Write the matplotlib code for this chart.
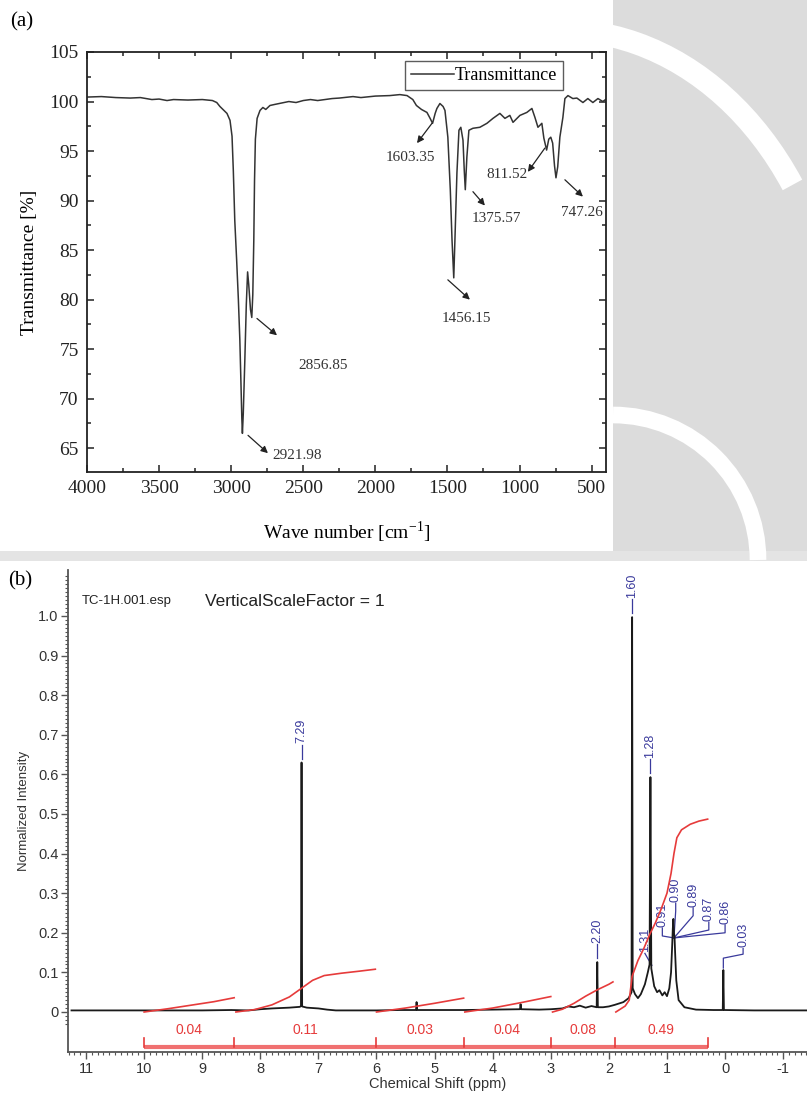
import matplotlib
matplotlib.use("Agg")
import matplotlib.pyplot as plt
from matplotlib.patches import Rectangle, Arc
from matplotlib.ticker import MultipleLocator, FixedLocator, FuncFormatter

W_PX, H_PX = 807, 1093

# ---- panel (a): FTIR spectrum ----
FTIR_WAVENUMBER = [
    4000, 3900, 3800, 3700, 3630, 3550, 3500, 3445, 3400, 3300, 3200, 3130,
    3100, 3078, 3050, 3029, 3008, 2994, 2985, 2975, 2962, 2950, 2940, 2932,
    2926, 2922, 2916, 2905, 2895, 2886, 2878, 2866, 2857, 2850, 2843, 2838,
    2832, 2820, 2800, 2780, 2760, 2731, 2700, 2650, 2600, 2550, 2500, 2450,
    2400, 2300, 2250, 2155, 2100, 2000, 1900, 1830, 1780, 1740, 1715, 1680,
    1642, 1620, 1603, 1585, 1573, 1552, 1530, 1517, 1497, 1480, 1468, 1456,
    1448, 1434, 1420, 1407, 1392, 1383, 1376, 1365, 1351, 1323, 1275, 1226,
    1184, 1136, 1101, 1067, 1045, 997, 949, 914, 893, 872, 845, 831, 812,
    797, 783, 770, 757, 747, 735, 720, 699, 685, 664, 630, 602, 560, 526,
    491, 456, 422, 403,
]
FTIR_TRANSMITTANCE = [
    100.45, 100.5, 100.4, 100.35, 100.4, 100.2, 100.25, 100.1, 100.2, 100.15,
    100.2, 100.1, 99.9, 99.5, 99.1, 98.8, 98.1, 96.5, 93.0, 88.0, 84.0, 80.0,
    76.0, 71.5, 68.0, 66.5, 68.5, 74.0, 79.5, 82.8, 81.5, 79.0, 78.2, 80.5,
    86.0, 92.0, 96.2, 98.3, 99.1, 99.4, 99.2, 99.6, 99.7, 99.85, 100.0, 99.9,
    100.1, 100.2, 100.1, 100.3, 100.35, 100.5, 100.4, 100.55, 100.6, 100.7,
    100.6, 100.2, 99.6, 99.2, 98.9, 98.3, 97.8, 98.8, 99.3, 99.8, 99.5, 99.1,
    96.4, 91.1, 86.0, 82.2, 86.0, 92.8, 97.1, 97.4, 96.1, 93.0, 91.1, 94.4,
    97.1, 97.3, 97.4, 97.8, 98.3, 98.8, 98.3, 98.6, 97.9, 98.6, 98.9, 99.3,
    98.4, 97.4, 97.8, 96.3, 95.1, 96.2, 96.4, 95.8, 93.5, 92.3, 93.4, 96.4,
    98.4, 100.3, 100.6, 100.3, 100.35, 99.9, 100.3, 99.9, 100.3, 100.0, 100.2,
]
FTIR_PEAK_LABELS = ["2921.98", "2856.85", "1603.35", "1456.15", "1375.57", "811.52", "747.26"]

# ---- panel (b): 1H NMR spectrum ----
NMR_PPM = [
    11.25, 10.5, 10.0, 9.0, 8.5, 8.2, 8.0, 7.8, 7.5, 7.32, 7.30, 7.29, 7.28,
    7.2, 7.0, 6.85, 6.7, 6.0, 5.6, 5.32, 5.31, 5.30, 5.0, 4.5, 4.0, 3.53,
    3.52, 3.51, 3.2, 3.0, 2.8, 2.7, 2.6, 2.5, 2.4, 2.3, 2.21, 2.20, 2.19,
    2.1, 2.0, 1.9, 1.75, 1.66, 1.61, 1.60, 1.59, 1.55, 1.5, 1.45, 1.38,
    1.33, 1.30, 1.285, 1.27, 1.22, 1.17, 1.13, 1.08, 1.04, 1.0, 0.96, 0.93,
    0.91, 0.90, 0.89, 0.88, 0.87, 0.86, 0.84, 0.8, 0.7, 0.5, 0.2, 0.04,
    0.03, 0.02, -0.5, -1.0, -1.4,
]
NMR_INTENSITY = [
    0.004, 0.004, 0.004, 0.004, 0.005, 0.004, 0.007, 0.009, 0.011, 0.013,
    0.015, 0.63, 0.014, 0.011, 0.009, 0.006, 0.004, 0.004, 0.005, 0.005,
    0.025, 0.005, 0.005, 0.005, 0.006, 0.007, 0.020, 0.007, 0.006, 0.007,
    0.009, 0.014, 0.012, 0.016, 0.011, 0.015, 0.012, 0.126, 0.012, 0.012,
    0.014, 0.018, 0.025, 0.035, 0.05, 0.997, 0.06, 0.045, 0.035, 0.045,
    0.07, 0.10, 0.12, 0.593, 0.11, 0.065, 0.05, 0.055, 0.042, 0.05, 0.04,
    0.06, 0.10, 0.17, 0.21, 0.235, 0.20, 0.19, 0.15, 0.08, 0.03, 0.012,
    0.006, 0.005, 0.005, 0.106, 0.005, 0.004, 0.004, 0.004,
]
INTEGRAL_EDGES = [10.0, 8.45, 6.0, 4.5, 3.0, 1.9, 0.3]
INTEGRAL_VALUES = ["0.04", "0.11", "0.03", "0.04", "0.08", "0.49"]
INTEGRAL_CURVES_PPM = [
    [10.0, 9.6, 9.2, 8.8, 8.45],
    [8.42, 8.1, 7.8, 7.5, 7.29, 7.1, 6.9, 6.6, 6.3, 6.02],
    [6.0, 5.5, 5.0, 4.5],
    [4.48, 4.0, 3.5, 3.0],
    [2.97, 2.8, 2.6, 2.4, 2.2, 2.0, 1.93],
    [1.88, 1.72, 1.65, 1.6, 1.5, 1.4, 1.3, 1.2, 1.1, 1.0, 0.93, 0.88, 0.83,
     0.75, 0.6, 0.45, 0.3],
]
INTEGRAL_CURVES_VAL = [
    [0.0, 0.008, 0.017, 0.026, 0.036],
    [0.0, 0.006, 0.018, 0.038, 0.06, 0.08, 0.092, 0.098, 0.103, 0.108],
    [0.0, 0.01, 0.022, 0.035],
    [0.0, 0.01, 0.024, 0.039],
    [0.0, 0.007, 0.022, 0.04, 0.056, 0.07, 0.076],
    [0.0, 0.015, 0.03, 0.09, 0.13, 0.16, 0.195, 0.225, 0.26, 0.3, 0.35,
     0.40, 0.44, 0.46, 0.474, 0.482, 0.487],
]
NMR_PEAK_LABELS = ["7.29", "1.60", "1.28", "2.20", "0.03"]
NMR_PEAK_PPM = [7.29, 1.60, 1.285, 2.20, 0.03]
NMR_PEAK_TOP = [0.63, 0.997, 0.593, 0.126, 0.106]
CLUSTER_LABELS = ["0.91", "0.90", "0.89", "0.87", "0.86"]

SERIF = ["Liberation Serif", "DejaVu Serif"]
SANS = ["Liberation Sans", "DejaVu Sans"]
BLUE = "#3a3a9c"
RED = "#e63b3b"


def fx(px):
    return px / W_PX


def fy(py):
    return 1.0 - py / H_PX


def draw_background(fig):
    # light watermark-like backdrop around the panels
    bg = fig.add_axes([0, 0, 1, 1], zorder=-10)
    bg.set_xlim(0, W_PX)
    bg.set_ylim(H_PX, 0)
    bg.axis("off")
    bg.add_patch(Rectangle((613, 0), W_PX - 613, 552, color="#dcdcdc", lw=0))
    bg.add_patch(Rectangle((0, 551), W_PX, 10, color="#e4e4e4", lw=0))
    bg.add_patch(Rectangle((0, 561), W_PX, H_PX - 561, color="white", lw=0))
    bg.add_patch(Arc((613, 560), 290, 290, theta1=270, theta2=360, color="white", lw=12))
    bg.add_patch(Arc((560, 380), 560, 700, theta1=250, theta2=320, color="white", lw=16))


def draw_ftir(fig):
    ax = fig.add_axes([fx(87), fy(472), fx(606) - fx(87), fy(52) - fy(472)])
    ax.plot(FTIR_WAVENUMBER, FTIR_TRANSMITTANCE, color="#333333", lw=1.1, label="Transmittance")
    ax.set_xlim(4000, 400)
    ax.set_ylim(62.6, 105)
    ax.xaxis.set_major_locator(MultipleLocator(500))
    ax.xaxis.set_minor_locator(MultipleLocator(250))
    ax.yaxis.set_major_locator(MultipleLocator(5))
    ax.yaxis.set_minor_locator(MultipleLocator(2.5))
    ax.tick_params(which="both", direction="in", top=True, right=True, width=1.1, colors="#222222")
    ax.tick_params(which="major", length=5, labelsize=14, pad=6)
    ax.tick_params(which="minor", length=3)
    for lab in ax.get_xticklabels() + ax.get_yticklabels():
        lab.set_family(SERIF)
    for sp in ax.spines.values():
        sp.set_linewidth(1.3)
        sp.set_color("#222222")
    ax.set_xlabel("Wave number [cm$^{\\mathregular{-1}}$]", family=SERIF, fontsize=14, labelpad=16)
    ax.set_ylabel("Transmittance [%]", family=SERIF, fontsize=14, labelpad=8)

    leg = ax.legend(loc="upper right", bbox_to_anchor=(0.917, 0.979), borderaxespad=0,
                    fancybox=False, frameon=True, handlelength=2.4, handletextpad=0.0,
                    prop={"family": SERIF, "size": 13}, borderpad=0.35)
    leg.get_frame().set_edgecolor("#333333")
    leg.get_frame().set_linewidth(1.0)

    # (tail near peak, arrow head, text centre)
    layout = [
        ((2883, 66.3), (2745, 64.5), (2544, 64.3)),
        ((2821, 78.1), (2682, 76.4), (2363, 73.4)),
        ((1607, 97.8), (1711, 95.8), (1760, 94.3)),
        ((1497, 82.0), (1344, 80.0), (1365, 78.1)),
        ((1323, 90.9), (1240, 89.5), (1157, 88.2)),
        ((824, 95.3), (942, 92.9), (1087, 92.6)),
        ((685, 92.1), (560, 90.4), (567, 88.8)),
    ]
    for label, (tail, head, txt) in zip(FTIR_PEAK_LABELS, layout):
        ax.annotate("", xy=head, xytext=tail,
                    arrowprops=dict(arrowstyle="-|>", color="#222222", lw=0.9,
                                    mutation_scale=10, shrinkA=0, shrinkB=0))
        ax.text(txt[0], txt[1], label, family=SERIF, fontsize=11, color="#333333",
                ha="center", va="center")
    return ax


def draw_nmr(fig):
    ax = fig.add_axes([fx(68), fy(1052), 1 - fx(68), fy(570) - fy(1052)])
    ax.patch.set_alpha(0)
    ax.plot(NMR_PPM, NMR_INTENSITY, color="#1a1a1a", lw=1.3, zorder=3)
    ax.set_xlim(11.31, -1.41)
    ax.set_ylim(-0.101, 1.116)

    for ppm, val in zip(INTEGRAL_CURVES_PPM, INTEGRAL_CURVES_VAL):
        ax.plot(ppm, val, color=RED, lw=1.2, zorder=4)

    bar_y, tick_y = -0.088, -0.066
    ax.plot([INTEGRAL_EDGES[0], INTEGRAL_EDGES[-1]], [bar_y, bar_y], color="#f07070", lw=3,
            solid_capstyle="butt", zorder=2)
    for e in INTEGRAL_EDGES:
        ax.plot([e, e], [bar_y, tick_y], color=RED, lw=1.2, zorder=2)
    for lo, hi, txt in zip(INTEGRAL_EDGES[:-1], INTEGRAL_EDGES[1:], INTEGRAL_VALUES):
        ax.text((lo + hi) / 2, -0.045, txt, color=RED, family=SANS, fontsize=10,
                ha="center", va="center")

    # peak labels with simple leaders
    for label, ppm, top in zip(NMR_PEAK_LABELS, NMR_PEAK_PPM, NMR_PEAK_TOP):
        if label == "0.03":
            tx, ty = -0.31, 0.16
            ax.plot([ppm, ppm, tx, tx], [top + 0.005, top + 0.03, top + 0.04, ty],
                    color=BLUE, lw=0.9)
        else:
            tx, ty = ppm, top + 0.045
            ax.plot([ppm, ppm], [top + 0.01, ty], color=BLUE, lw=0.9)
        ax.text(tx, ty + 0.003, label, rotation=90, color=BLUE, family=SANS, fontsize=9,
                ha="center", va="bottom")

    # 1.31 label on the shoulder of the 1.28 peak
    ax.plot([1.26, 1.33, 1.38], [0.118, 0.135, 0.148], color=BLUE, lw=0.9)
    ax.text(1.38, 0.151, "1.31", rotation=90, color=BLUE, family=SANS, fontsize=9,
            ha="center", va="bottom")

    # 0.86-0.91 multiplet cluster
    anchor = (0.88, 0.187)
    cluster_x = [1.08, 0.85, 0.55, 0.28, 0.0]
    cluster_y = [0.212, 0.275, 0.263, 0.227, 0.22]
    for label, lx, ly in zip(CLUSTER_LABELS, cluster_x, cluster_y):
        ax.plot([lx, lx, anchor[0]], [ly, ly - 0.02, anchor[1]], color=BLUE, lw=0.9)
        ax.text(lx, ly + 0.003, label, rotation=90, color=BLUE, family=SANS, fontsize=9,
                ha="center", va="bottom")

    ax.spines["top"].set_visible(False)
    ax.spines["right"].set_visible(False)
    for sp in ("left", "bottom"):
        ax.spines[sp].set_color("#555555")
        ax.spines[sp].set_linewidth(1.3)

    ax.xaxis.set_major_locator(FixedLocator(list(range(11, -2, -1))))
    ax.xaxis.set_minor_locator(MultipleLocator(0.1))
    ax.xaxis.set_major_formatter(FuncFormatter(lambda v, p: f"{int(round(v))}"))
    ax.yaxis.set_major_locator(FixedLocator([i / 10 for i in range(0, 11)]))
    ax.yaxis.set_minor_locator(FixedLocator([i / 100 for i in range(-3, 111)]))
    ax.yaxis.set_major_formatter(FuncFormatter(lambda v, p: "0" if abs(v) < 1e-9 else f"{v:.1f}"))
    ax.tick_params(which="both", direction="out", colors="#555555", labelcolor="#333333")
    ax.tick_params(which="major", length=5, width=1.0, labelsize=10.5, pad=2)
    ax.tick_params(which="minor", length=2.5, width=0.8)
    for lab in ax.get_xticklabels() + ax.get_yticklabels():
        lab.set_family(SANS)
    ax.set_xlabel("Chemical Shift (ppm)", family=SANS, fontsize=10.5, color="#333333", labelpad=1)
    ax.set_ylabel("Normalized Intensity", family=SANS, fontsize=9.5, color="#333333", labelpad=6)

    ax.text(0.018, 0.935, "TC-1H.001.esp", transform=ax.transAxes, family=SANS, fontsize=9.5,
            color="#222222", va="center")
    ax.text(0.185, 0.935, "VerticalScaleFactor = 1", transform=ax.transAxes, family=SANS,
            fontsize=12.5, color="#222222", va="center")
    return ax


def main():
    plt.rcParams["axes.unicode_minus"] = False
    plt.rcParams["mathtext.fontset"] = "stix"
    fig = plt.figure(figsize=(W_PX / 100, H_PX / 100), dpi=100)
    fig.patch.set_facecolor("white")
    draw_background(fig)
    draw_ftir(fig)
    draw_nmr(fig)
    fig.text(fx(10), fy(22), "(a)", family=SERIF, fontsize=15, va="center", ha="left")
    fig.text(fx(8), fy(581), "(b)", family=SERIF, fontsize=15, va="center", ha="left")
    fig.savefig("out.png", dpi=100)
    plt.close(fig)


if __name__ == "__main__":
    main()
